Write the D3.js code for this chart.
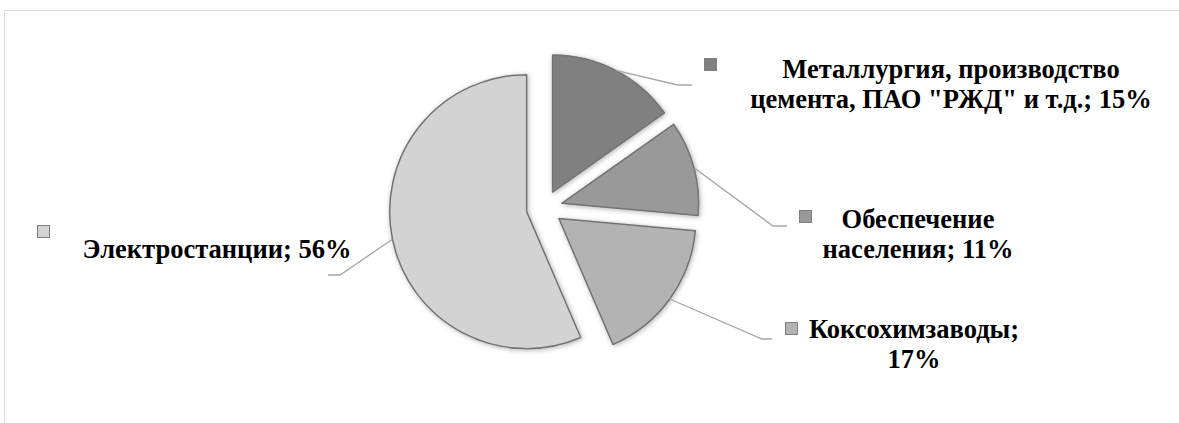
<!DOCTYPE html>
<html>
<head>
<meta charset="utf-8">
<script src="https://cdn.jsdelivr.net/npm/d3@7"></script>
<style>
  body { margin: 0; background: #fff; }
  svg text { font-family: "Liberation Serif", "DejaVu Serif", "Noto Serif", serif; font-weight: bold; fill: #000; }
</style>
</head>
<body>
<script>
// data
const categories = ["Металлургия, производство цемента, ПАО \"РЖД\" и т.д.", "Обеспечение населения", "Коксохимзаводы", "Электростанции"];
const values = [15.2, 11.2, 17.1, 56.4];
const labelLines = [
  ["Металлургия, производство", "цемента, ПАО \"РЖД\" и т.д.; 15%"],
  ["Обеспечение", "населения; 11%"],
  ["Коксохимзаводы;", "17%"],
  ["Электростанции; 56%"]
];
const colors = ["#808080", "#999999", "#b3b3b3", "#d3d3d3"];

// layout of labels: text anchor, legend square, leader elbow
const labelLayout = [
  { tx: 951, ty: 78, sx: 704, sy: 58, ex: 678, ey: 85, hx: 692 },
  { tx: 918, ty: 228, sx: 799, sy: 210, ex: 773, ey: 226, hx: 787 },
  { tx: 914, ty: 338, sx: 785, sy: 322, ex: 762, ey: 339, hx: 772 },
  { tx: 217, ty: 258, sx: 37, sy: 225, ex: 340, ey: 275, hx: 328 }
];

const w = 1179, h = 423;
const cx = 544.3, cy = 208, r = 137, explode = 18;

const svg = d3.select("body").append("svg")
  .attr("width", w)
  .attr("height", h);

const defs = svg.append("defs");
const f = defs.append("filter").attr("id", "shadow")
  .attr("x", "-20%").attr("y", "-20%").attr("width", "140%").attr("height", "140%");
f.append("feDropShadow")
  .attr("dx", 1).attr("dy", 1)
  .attr("stdDeviation", 2.5)
  .attr("flood-color", "#000")
  .attr("flood-opacity", 0.3);

// frame
svg.append("path")
  .attr("d", `M4.5,${h} V10.5 H${w}`)
  .attr("fill", "none")
  .attr("stroke", "#d9d9d9")
  .attr("stroke-width", 1);

const pie = d3.pie().sort(null).value(d => d)(values);
const arc = d3.arc().innerRadius(0).outerRadius(r);

const g = svg.append("g").attr("transform", `translate(${cx},${cy})`);

const offset = d => {
  const a = (d.startAngle + d.endAngle) / 2;
  return [Math.sin(a) * explode, -Math.cos(a) * explode];
};

// leader lines
svg.selectAll("path.leader")
  .data(pie)
  .enter()
  .append("path")
  .attr("class", "leader")
  .attr("d", (d, i) => {
    const a = (d.startAngle + d.endAngle) / 2;
    const o = offset(d);
    const x0 = cx + o[0] + Math.sin(a) * r;
    const y0 = cy + o[1] - Math.cos(a) * r;
    const L = labelLayout[i];
    return `M${x0},${y0} L${L.ex},${L.ey} L${L.hx},${L.ey}`;
  })
  .attr("fill", "none")
  .attr("stroke", "#a6a6a6")
  .attr("stroke-width", 1.3);

g.selectAll("path.slice")
  .data(pie)
  .enter()
  .append("path")
  .attr("class", "slice")
  .attr("d", arc)
  .attr("transform", d => `translate(${offset(d)})`)
  .attr("fill", (d, i) => colors[i])
  .attr("stroke", "#737373")
  .attr("stroke-width", 1.5)
  .attr("stroke-linejoin", "round")
  .attr("filter", "url(#shadow)");

// legend keys
svg.selectAll("rect.key")
  .data(pie)
  .enter()
  .append("rect")
  .attr("class", "key")
  .attr("x", (d, i) => labelLayout[i].sx + 0.5)
  .attr("y", (d, i) => labelLayout[i].sy + 0.5)
  .attr("width", 12)
  .attr("height", 12)
  .attr("fill", (d, i) => colors[i])
  .attr("stroke", "#7f7f7f")
  .attr("stroke-width", 1);

// labels
const labels = svg.selectAll("text.label")
  .data(pie)
  .enter()
  .append("text")
  .attr("class", "label")
  .attr("text-anchor", "middle")
  .attr("font-size", 22)
  .attr("x", (d, i) => labelLayout[i].tx)
  .attr("y", (d, i) => labelLayout[i].ty);

labels.each(function (d, i) {
  d3.select(this).selectAll("tspan")
    .data(labelLines[i])
    .enter()
    .append("tspan")
    .attr("x", labelLayout[i].tx)
    .attr("dy", (t, j) => j === 0 ? 0 : 29.5)
    .text(t => t);
});

// fit font size so "Электростанции; 56%" spans about 269px as in the reference
const probe = labels.filter((d, i) => i === 3).node();
const measured = probe.getComputedTextLength();
if (measured > 0) {
  const fs = 22 * 269 / measured;
  labels.attr("font-size", fs);
}
</script>
</body>
</html>
